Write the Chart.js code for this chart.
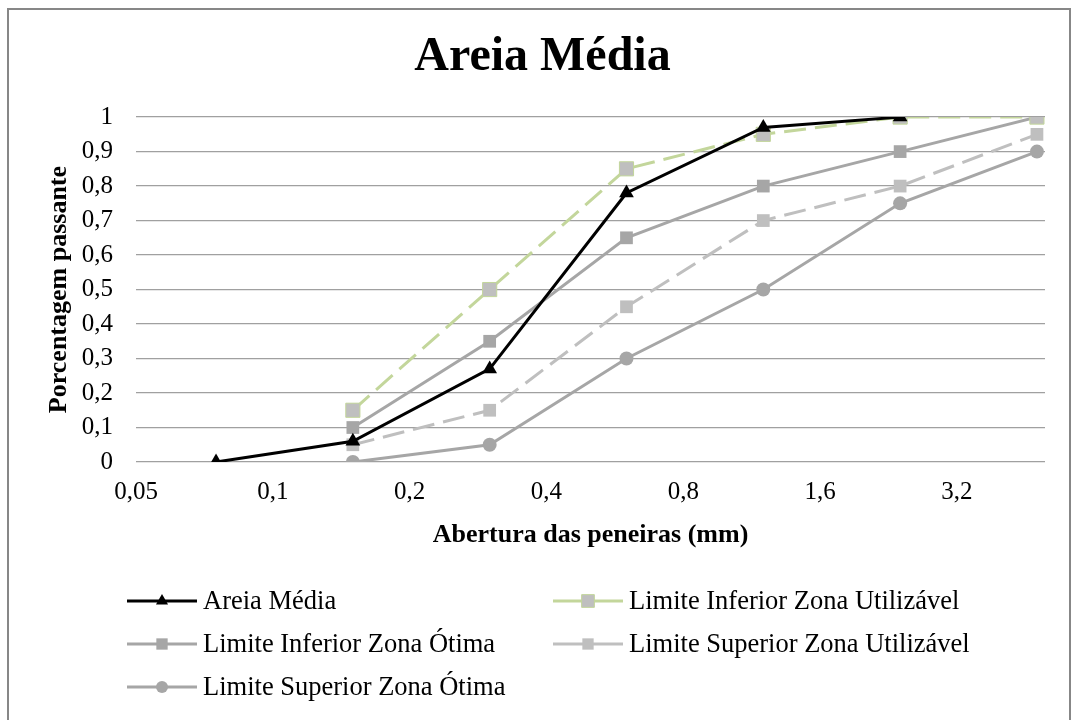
<!DOCTYPE html>
<html>
<head>
<meta charset="utf-8">
<script src="https://cdn.jsdelivr.net/npm/chart.js@4"></script>
<style>
	body { margin: 0; background: #fff; }
	canvas { display: block; }
</style>
</head>
<body>
<canvas id="chart" width="1077" height="720"></canvas>
<script>
'use strict';

// dados
const aberturaAreia = [0.075, 0.15, 0.3, 0.6, 1.2, 2.4];
const aberturaLimites = [0.15, 0.3, 0.6, 1.2, 2.4, 4.8];

const areiaMedia = [0, 0.06, 0.27, 0.78, 0.97, 1];
const limInfUtilizavel = [0.15, 0.5, 0.85, 0.95, 1, 1];
const limInfOtima = [0.1, 0.35, 0.65, 0.8, 0.9, 1];
const limSupUtilizavel = [0.05, 0.15, 0.45, 0.7, 0.8, 0.95];
const limSupOtima = [0, 0.05, 0.3, 0.5, 0.75, 0.9];

const xTicks = [0.05, 0.1, 0.2, 0.4, 0.8, 1.6, 3.2];

const serif = "'Liberation Serif', 'Times New Roman', serif";

const pontos = (xs, ys) => xs.map((x, i) => ({ x: x, y: ys[i] }));
const virgula = v => String(v).replace('.', ',');

const datasets = [
	{
		label: 'Areia Média',
		data: pontos(aberturaAreia, areiaMedia),
		borderColor: '#000',
		backgroundColor: '#000',
		borderWidth: 3,
		pointStyle: 'triangle',
		pointRadius: 8.5,
		pointBorderWidth: 0
	},
	{
		label: 'Limite Inferior Zona Utilizável',
		data: pontos(aberturaLimites, limInfUtilizavel),
		borderColor: '#c3d69b',
		backgroundColor: '#bfbfbf',
		borderWidth: 3,
		borderDash: [22, 9],
		pointStyle: 'rect',
		pointRadius: 10,
		pointBorderWidth: 1,
		pointBorderColor: '#c3d69b'
	},
	{
		label: 'Limite Inferior Zona Ótima',
		data: pontos(aberturaLimites, limInfOtima),
		borderColor: '#a6a6a6',
		backgroundColor: '#a6a6a6',
		borderWidth: 3,
		pointStyle: 'rect',
		pointRadius: 9,
		pointBorderWidth: 0
	},
	{
		label: 'Limite Superior Zona Utilizável',
		data: pontos(aberturaLimites, limSupUtilizavel),
		borderColor: '#bfbfbf',
		backgroundColor: '#bfbfbf',
		borderWidth: 3,
		borderDash: [22, 9],
		pointStyle: 'rect',
		pointRadius: 9,
		pointBorderWidth: 0
	},
	{
		label: 'Limite Superior Zona Ótima',
		data: pontos(aberturaLimites, limSupOtima),
		borderColor: '#a6a6a6',
		backgroundColor: '#a6a6a6',
		borderWidth: 3,
		pointStyle: 'circle',
		pointRadius: 7,
		pointBorderWidth: 0
	}
];

datasets.forEach(d => {
	d.fill = false;
	d.tension = 0;
	d.pointBackgroundColor = d.backgroundColor;
	d.pointHoverRadius = d.pointRadius;
});

// legenda em duas colunas, desenhada no canvas
const legendaColunas = [127, 553];
const legendaLinhas = [601, 644, 687];

const legendaPlugin = {
	id: 'legendaColunas',
	afterDraw(chart) {
		const ctx = chart.ctx;
		chart.data.datasets.forEach((ds, i) => {
			const x = legendaColunas[i % 2];
			const y = legendaLinhas[Math.floor(i / 2)];

			ctx.save();
			ctx.strokeStyle = ds.borderColor;
			ctx.lineWidth = ds.borderWidth;
			ctx.beginPath();
			ctx.moveTo(x, y);
			ctx.lineTo(x + 70, y);
			ctx.stroke();

			ctx.fillStyle = ds.backgroundColor;
			ctx.strokeStyle = ds.pointBorderColor || ds.backgroundColor;
			ctx.lineWidth = ds.pointBorderWidth;
			Chart.helpers.drawPoint(ctx, {
				pointStyle: ds.pointStyle,
				radius: ds.pointStyle === 'triangle' ? 7 : ds.pointRadius - 1,
				borderWidth: ds.pointBorderWidth,
				rotation: 0
			}, x + 35, y);

			ctx.fillStyle = '#000';
			ctx.font = '26.5px ' + serif;
			ctx.textBaseline = 'middle';
			ctx.textAlign = 'left';
			ctx.fillText(ds.label, x + 76, y + 1);
			ctx.restore();
		});
	}
};

const bordaPlugin = {
	id: 'borda',
	afterDraw(chart) {
		const ctx = chart.ctx;
		ctx.save();
		ctx.strokeStyle = '#878787';
		ctx.lineWidth = 2;
		ctx.strokeRect(8, 9, 1062, 730);
		ctx.restore();
	}
};

const chart = new Chart(document.querySelector('#chart').getContext('2d'), {
	type: 'line',
	data: { datasets: datasets },
	plugins: [legendaPlugin, bordaPlugin],
	options: {
		responsive: false,
		animation: false,
		layout: {
			padding: { left: 40, right: 32, top: 0, bottom: 158 }
		},
		plugins: {
			legend: { display: false },
			tooltip: { enabled: false },
			title: {
				display: true,
				text: 'Areia Média',
				color: '#000',
				font: { family: serif, size: 48, weight: 'bold' },
				padding: { top: 28.5, bottom: 31 }
			}
		},
		scales: {
			x: {
				type: 'logarithmic',
				min: 0.05,
				max: 5,
				afterBuildTicks: scale => {
					scale.ticks = xTicks.map(v => ({ value: v }));
				},
				afterFit: scale => {
					scale.height = 100;
				},
				grid: { display: false, drawTicks: false },
				border: { display: false },
				ticks: {
					autoSkip: false,
					maxRotation: 0,
					minRotation: 0,
					padding: 15,
					color: '#000',
					font: { family: serif, size: 25 },
					callback: v => virgula(v)
				},
				title: {
					display: true,
					text: 'Abertura das peneiras (mm)',
					color: '#000',
					font: { family: serif, size: 26, weight: 'bold' },
					padding: { top: 0, bottom: 11 }
				}
			},
			y: {
				min: 0,
				max: 1,
				afterFit: scale => {
					scale.width = 96;
				},
				grid: { color: '#a0a0a0', lineWidth: 1.3, drawTicks: false },
				border: { display: false },
				ticks: {
					stepSize: 0.1,
					padding: 23,
					color: '#000',
					font: { family: serif, size: 25 },
					callback: v => (v === 0 || v === 1) ? String(v) : virgula(v.toFixed(1))
				},
				title: {
					display: true,
					text: 'Porcentagem passante',
					color: '#000',
					font: { family: serif, size: 26, weight: 'bold' },
					padding: { top: 4, bottom: 0 }
				}
			}
		}
	}
});
</script>
</body>
</html>
